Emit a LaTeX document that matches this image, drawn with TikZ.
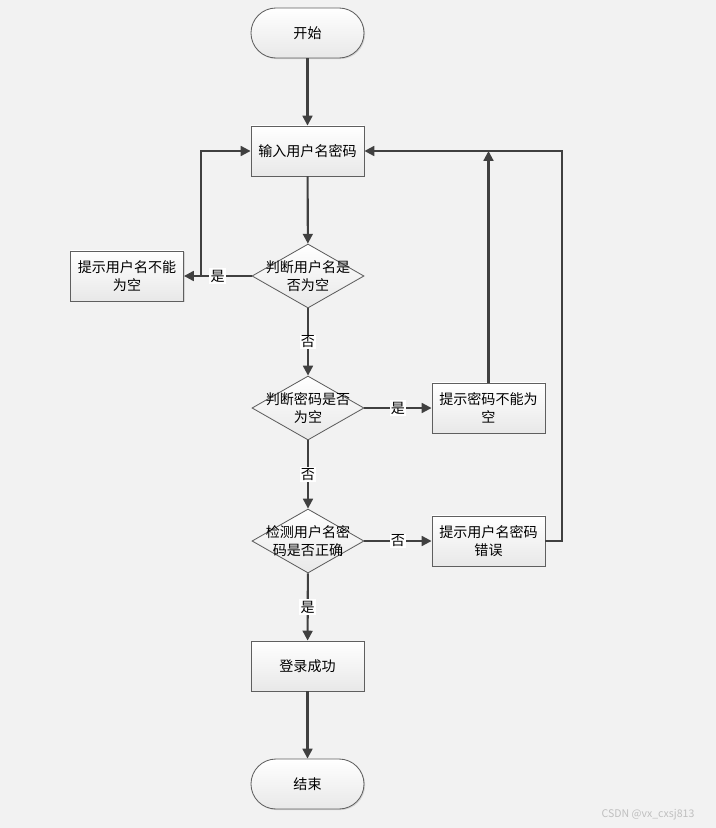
\documentclass[tikz,border=0pt]{standalone}
\usepackage{fontspec}
\setmainfont{Noto Sans CJK SC}
\usetikzlibrary{shapes.geometric,arrows.meta,shadows}
\definecolor{bg}{HTML}{F2F2F2}
\definecolor{ln}{HTML}{404040}
\definecolor{bd}{HTML}{5F5F5F}
\begin{document}
\begin{tikzpicture}[x=0.025cm, y=-0.025cm,
  every node/.style={font=\fontsize{10}{12.5}\selectfont},
  box/.style={draw=bd, line width=.6pt, top color=white, bottom color=black!9, drop shadow={shadow xshift=.8pt, shadow yshift=-.8pt, opacity=.25}, minimum width=2.825cm, minimum height=1.25cm, align=center, inner sep=2pt},
  term/.style={box, rounded corners=.625cm},
  decision/.style={diamond, draw=bd, line width=.6pt, top color=white, bottom color=black!9, minimum width=2.8cm, minimum height=1.6cm, inner sep=0pt},
  flow/.style={draw=ln, line width=1.5pt, -{Triangle[length=7pt,width=7pt]}},
  tag/.style={fill=white, inner sep=1pt}]
\fill[bg] (0,0) rectangle (716,828);
\useasboundingbox (0,0) rectangle (716,828);
\node[term] (start) at (307.5,33) {开始};
\node[box] (input) at (307.5,151) {输入用户名密码};
\node[decision, label={[align=center]center:判断用户名是\\否为空}] (chkname) at (308,276) {};
\node[box] (namemsg) at (127,276) {提示用户名不能\\为空};
\node[decision, label={[align=center]center:判断密码是否\\为空}] (chkpwd) at (308,408) {};
\node[box] (pwdmsg) at (488.5,408) {提示密码不能为\\空};
\node[decision, label={[align=center]center:检测用户名密\\码是否正确}] (chkall) at (308,541) {};
\node[box] (errmsg) at (488.5,541) {提示用户名密码\\错误};
\node[box] (ok) at (307.5,666) {登录成功};
\node[term] (stop) at (307.5,784) {结束};
\node[text=black!25, font=\fontsize{7.5}{9}\selectfont] (mark) at (648,815) {CSDN @vx\_cxsj813};
\coordinate (back) at (201,276);
\coordinate (turn) at (562,541);
\draw[flow] (start) -- (input);
\draw[flow] (input) -- (chkname);
\draw[flow] (chkname) -- node[tag] {是} (namemsg);
\draw[flow] (back) |- (input);
\draw[flow] (chkname) -- node[tag] {否} (chkpwd);
\draw[flow] (chkpwd) -- node[tag] {是} (pwdmsg);
\draw[flow] (pwdmsg) -- (pwdmsg |- input);
\draw[flow] (chkpwd) -- node[tag] {否} (chkall);
\draw[flow] (chkall) -- node[tag] {否} (errmsg);
\draw[flow] (errmsg) -- (turn) |- (input);
\draw[flow] (chkall) -- node[tag] {是} (ok);
\draw[flow] (ok) -- (stop);
\end{tikzpicture}
\end{document}
